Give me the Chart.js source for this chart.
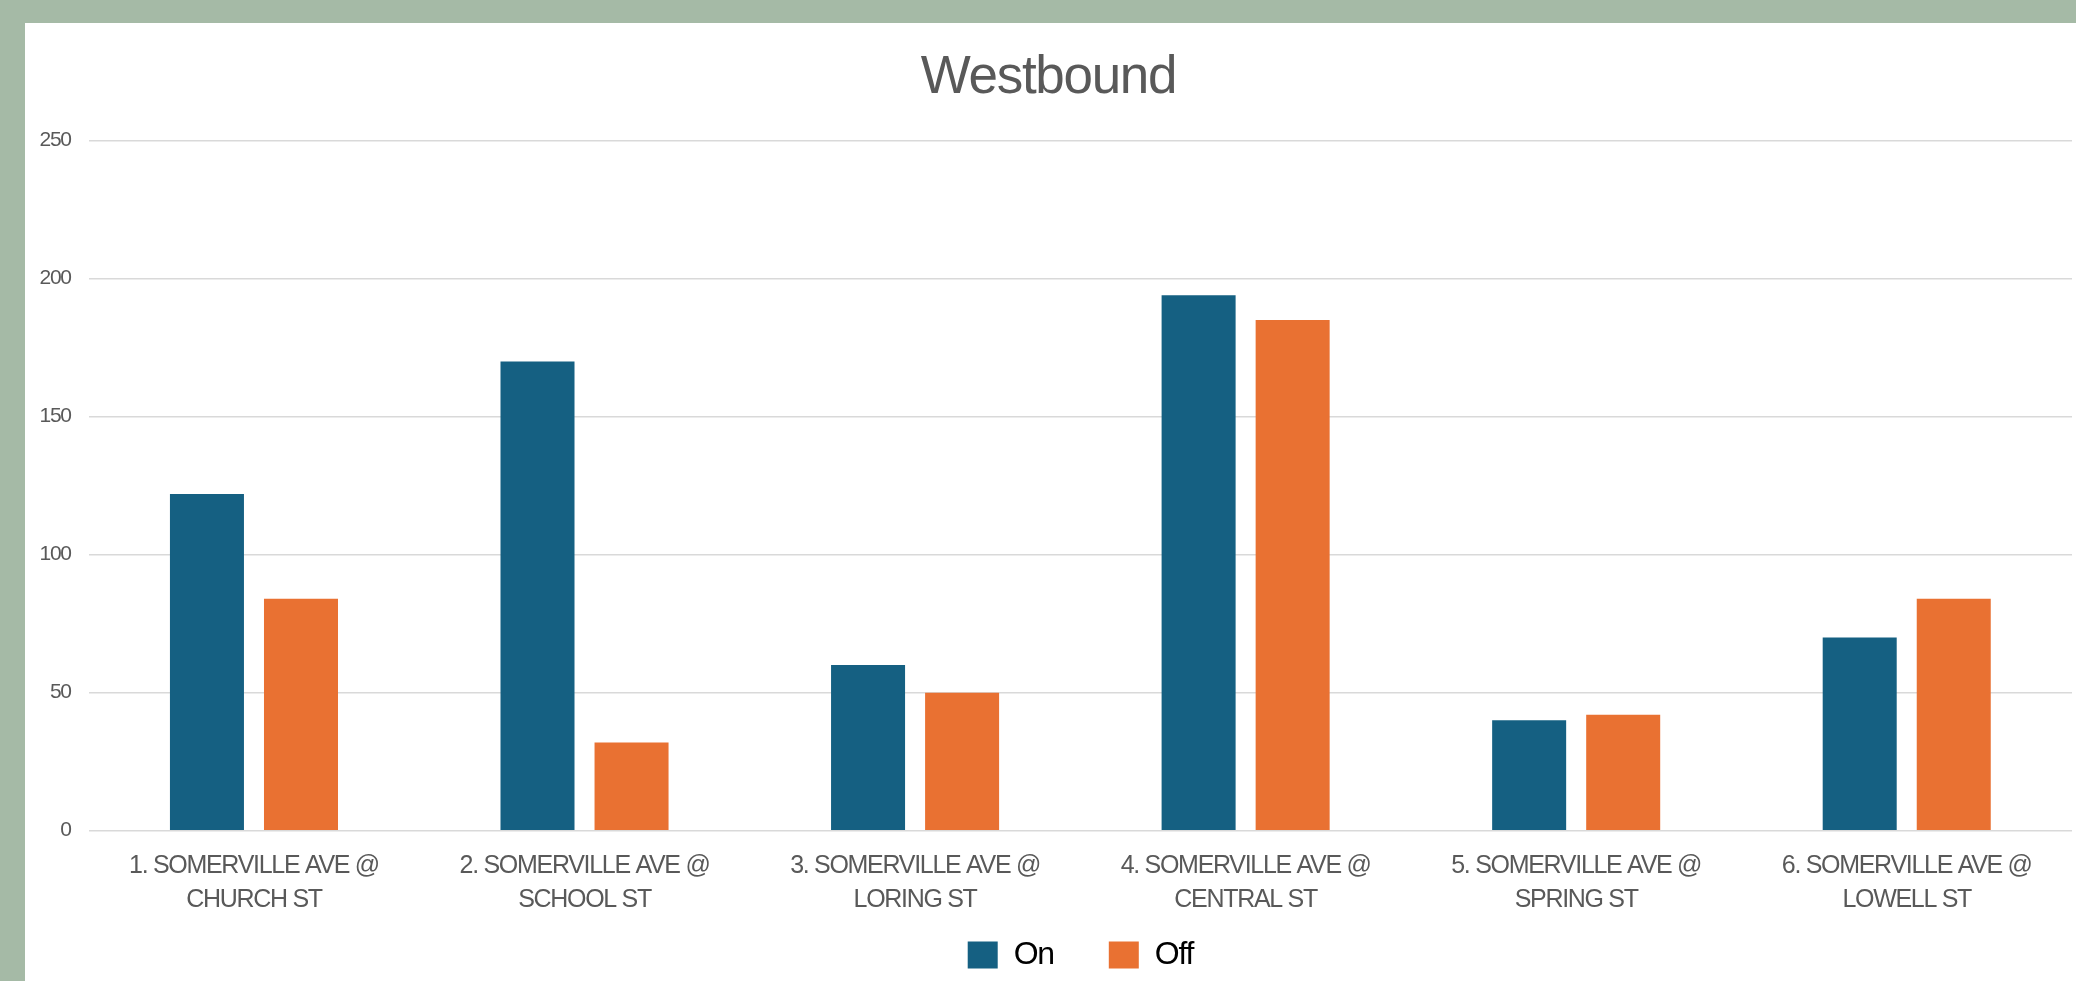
<!DOCTYPE html>
<html>
<head>
<meta charset="utf-8">
<script src="https://cdn.jsdelivr.net/npm/chart.js@4.4.1/dist/chart.umd.min.js"></script>
<style>
  html, body { margin: 0; padding: 0; background: #A5BAA6; width: 2076px; height: 981px; overflow: hidden; }
  #wrap { position: absolute; left: 25px; top: 23px; width: 2051px; height: 958px; background: #ffffff; }
</style>
</head>
<body>
<div id="wrap"><canvas id="c"></canvas></div>
<script>
const chartTitle = "Westbound";
const categories = [
  ["1. SOMERVILLE AVE @", "CHURCH ST"],
  ["2. SOMERVILLE AVE @", "SCHOOL ST"],
  ["3. SOMERVILLE AVE @", "LORING ST"],
  ["4. SOMERVILLE AVE @", "CENTRAL ST"],
  ["5. SOMERVILLE AVE @", "SPRING ST"],
  ["6. SOMERVILLE AVE @", "LOWELL ST"]
];
const seriesNames = ["On", "Off"];
const onValues = [122, 170, 60, 194, 40, 70];
const offValues = [84, 32, 50, 185, 42, 84];
const yTicks = [0, 50, 100, 150, 200, 250];

const FONT = "'Liberation Sans', Arial, sans-serif";
const SPACING = '-1.3px';

// Narrow-looking text (reference uses a narrow font): tighten letter spacing on the canvas context
const tightText = {
  id: 'tightText',
  beforeUpdate(chart) { chart.ctx.letterSpacing = SPACING; },
  beforeLayout(chart) { chart.ctx.letterSpacing = SPACING; },
  beforeDraw(chart) { chart.ctx.letterSpacing = SPACING; }
};

new Chart(document.getElementById('c'), {
  type: 'bar',
  plugins: [tightText],
  data: {
    labels: categories,
    datasets: [
      { label: seriesNames[0], data: onValues, backgroundColor: '#156082', borderWidth: 0,
        categoryPercentage: 0.569, barPercentage: 0.787 },
      { label: seriesNames[1], data: offValues, backgroundColor: '#E97132', borderWidth: 0,
        categoryPercentage: 0.569, barPercentage: 0.787 }
    ]
  },
  options: {
    responsive: true,
    maintainAspectRatio: false,
    animation: false,
    devicePixelRatio: 1,
    layout: { padding: { left: 0, right: 4, top: 0, bottom: 0 } },
    plugins: {
      tooltip: { enabled: false },
      title: {
        display: true,
        text: chartTitle,
        color: '#595959',
        font: { family: FONT, size: 53, weight: 'normal', lineHeight: 1.2 },
        padding: { top: 24, bottom: 30.1 }
      },
      legend: {
        display: true,
        position: 'bottom',
        fullSize: false,
        labels: {
          boxWidth: 30,
          boxHeight: 27,
          padding: 55,
          color: '#000000',
          font: { family: FONT, size: 32 }
        }
      }
    },
    scales: {
      x: {
        grid: { display: false, drawTicks: false },
        border: { display: false },
        ticks: {
          color: '#595959',
          font: { family: FONT, size: 25, lineHeight: 1.38 },
          padding: 18,
          maxRotation: 0,
          autoSkip: false
        },
        afterFit: (s) => {
          s.height = 53.3;
          s._computeLabelArea = () => undefined; // do not clip the two-line labels to the short axis box
        }
      },
      y: {
        min: yTicks[0],
        max: yTicks[yTicks.length - 1],
        afterBuildTicks: (s) => { s.ticks = yTicks.map(v => ({ value: v })); },
        grid: { color: '#D9D9D9', lineWidth: 1.5, drawTicks: false },
        border: { display: false },
        ticks: {
          color: '#595959',
          font: { family: FONT, size: 21 },
          padding: 18
        },
        afterFit: (s) => { s.width = 63.7; }
      }
    }
  }
});
</script>
</body>
</html>
